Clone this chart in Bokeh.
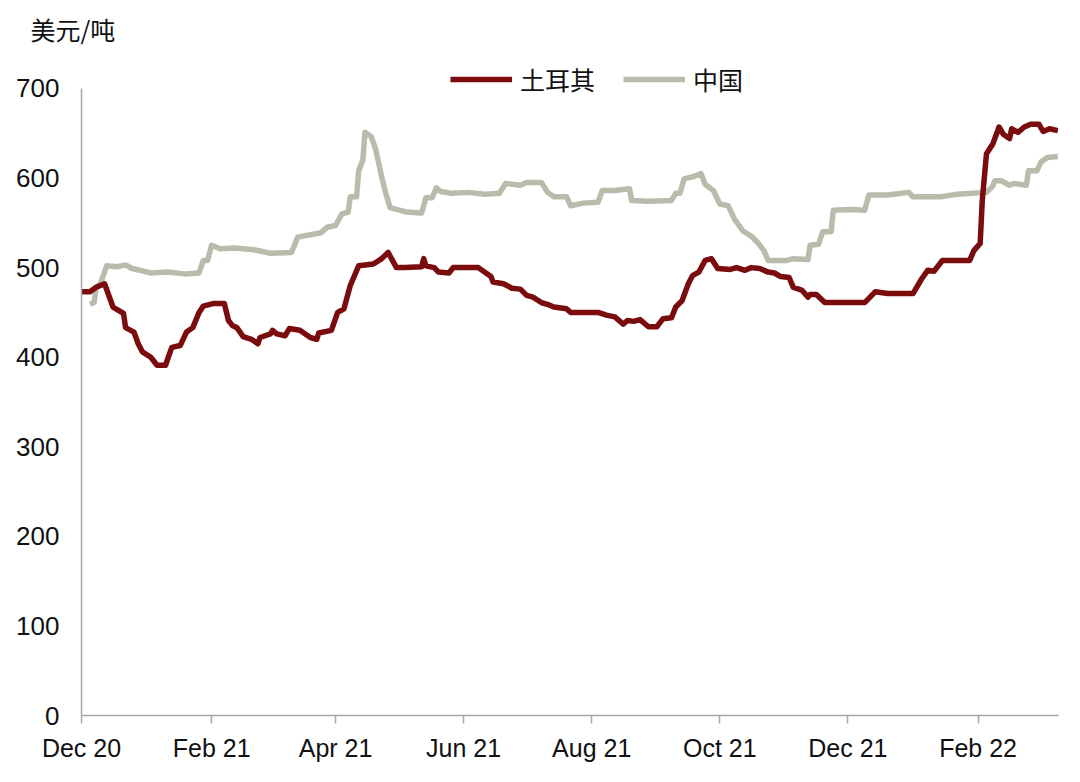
from datetime import datetime, timedelta
import pandas as pd
from bokeh.plotting import figure
from bokeh.models import (ColumnDataSource, FixedTicker, DatetimeTickFormatter,
                          Legend, LegendItem, Range1d)
from bokeh.embed import file_html
from bokeh.resources import INLINE

# ---------------- data ----------------
turkey_dates = [
    "2020-12-01", "2020-12-05", "2020-12-08", "2020-12-12", "2020-12-16", "2020-12-21",
    "2020-12-22", "2020-12-26", "2020-12-28", "2020-12-30", "2021-01-03", "2021-01-06",
    "2021-01-10", "2021-01-13", "2021-01-17", "2021-01-20", "2021-01-23", "2021-01-26",
    "2021-01-28", "2021-02-02", "2021-02-07", "2021-02-09", "2021-02-11", "2021-02-13",
    "2021-02-16", "2021-02-20", "2021-02-23", "2021-02-24", "2021-03-01", "2021-03-02",
    "2021-03-04", "2021-03-08", "2021-03-10", "2021-03-15", "2021-03-20", "2021-03-23",
    "2021-03-24", "2021-03-30", "2021-04-02", "2021-04-05", "2021-04-08", "2021-04-12",
    "2021-04-19", "2021-04-23", "2021-04-26", "2021-04-30", "2021-05-04", "2021-05-12",
    "2021-05-13", "2021-05-14", "2021-05-18", "2021-05-20", "2021-05-25", "2021-05-27",
    "2021-06-08", "2021-06-14", "2021-06-15", "2021-06-20", "2021-06-24", "2021-06-28",
    "2021-07-01", "2021-07-04", "2021-07-08", "2021-07-12", "2021-07-14", "2021-07-20",
    "2021-07-22", "2021-07-28", "2021-08-04", "2021-08-08", "2021-08-12", "2021-08-16",
    "2021-08-18", "2021-08-21", "2021-08-24", "2021-08-28", "2021-09-01", "2021-09-04",
    "2021-09-08", "2021-09-10", "2021-09-13", "2021-09-16", "2021-09-18", "2021-09-21",
    "2021-09-24", "2021-09-27", "2021-09-30", "2021-10-06", "2021-10-09", "2021-10-13",
    "2021-10-16", "2021-10-20", "2021-10-24", "2021-10-27", "2021-10-30", "2021-11-03",
    "2021-11-05", "2021-11-09", "2021-11-12", "2021-11-13", "2021-11-16", "2021-11-20",
    "2021-12-09", "2021-12-14", "2021-12-20", "2022-01-01", "2022-01-05", "2022-01-08",
    "2022-01-11", "2022-01-15", "2022-01-28", "2022-01-30", "2022-02-02", "2022-02-03",
    "2022-02-05", "2022-02-08", "2022-02-11", "2022-02-13", "2022-02-16", "2022-02-17",
    "2022-02-20", "2022-02-23", "2022-02-26", "2022-03-02", "2022-03-04", "2022-03-07",
    "2022-03-11",
]
turkey_values = [
    473, 473, 478, 482, 456, 449,
    433, 428, 415, 406, 400, 391,
    391, 411, 413, 428, 433, 450,
    457, 460, 460, 441, 435, 433,
    423, 420, 415, 422, 426, 430,
    426, 424, 432, 430, 422, 420,
    427, 430, 450, 454, 480, 502,
    504, 510, 517, 500, 500, 501,
    510, 502, 500, 495, 494, 500,
    500, 490, 484, 482, 477, 476,
    469, 467, 461, 458, 456, 454,
    450, 450, 450, 447, 445, 437,
    441, 440, 442, 434, 434, 443,
    444, 456, 463, 482, 491, 495,
    508, 510, 499, 498, 500, 497,
    500, 499, 495, 494, 490, 489,
    478, 475, 467, 470, 470, 461,
    461, 473, 471, 471, 487, 497,
    496, 508, 508, 519, 527, 575,
    627, 638, 657, 649, 644, 655,
    651, 657, 660, 660, 652, 655,
    653,
]

china_dates = [
    "2020-12-05", "2020-12-07", "2020-12-08", "2020-12-10", "2020-12-13", "2020-12-18",
    "2020-12-22", "2020-12-25", "2020-12-29", "2021-01-03", "2021-01-11", "2021-01-19",
    "2021-01-26", "2021-01-28", "2021-01-30", "2021-02-01", "2021-02-05", "2021-02-12",
    "2021-02-21", "2021-03-01", "2021-03-11", "2021-03-14", "2021-03-25", "2021-03-28",
    "2021-04-01", "2021-04-04", "2021-04-07", "2021-04-08", "2021-04-11", "2021-04-12",
    "2021-04-14", "2021-04-15", "2021-04-18", "2021-04-20", "2021-04-23", "2021-04-25",
    "2021-04-27", "2021-04-30", "2021-05-05", "2021-05-12", "2021-05-14", "2021-05-17",
    "2021-05-19", "2021-05-21", "2021-05-26", "2021-06-03", "2021-06-11", "2021-06-18",
    "2021-06-21", "2021-06-28", "2021-07-01", "2021-07-08", "2021-07-11", "2021-07-14",
    "2021-07-20", "2021-07-22", "2021-07-28", "2021-08-04", "2021-08-06", "2021-08-12",
    "2021-08-19", "2021-08-20", "2021-08-28", "2021-09-08", "2021-09-10", "2021-09-12",
    "2021-09-14", "2021-09-19", "2021-09-22", "2021-09-24", "2021-09-28", "2021-10-01",
    "2021-10-05", "2021-10-08", "2021-10-12", "2021-10-16", "2021-10-19", "2021-10-22",
    "2021-10-24", "2021-11-02", "2021-11-05", "2021-11-12", "2021-11-13", "2021-11-17",
    "2021-11-19", "2021-11-23", "2021-11-24", "2021-12-02", "2021-12-09", "2021-12-11",
    "2021-12-20", "2021-12-30", "2022-01-01", "2022-01-14", "2022-01-22", "2022-02-05",
    "2022-02-08", "2022-02-09", "2022-02-12", "2022-02-16", "2022-02-18", "2022-02-24",
    "2022-02-25", "2022-03-01", "2022-03-03", "2022-03-06", "2022-03-11",
]
china_values = [
    459, 461, 478, 482, 502, 501,
    503, 499, 497, 494, 495, 493,
    494, 508, 508, 525, 521, 522,
    520, 516, 517, 534, 539, 545,
    547, 560, 562, 579, 579, 608,
    620, 651, 646, 633, 601, 582,
    567, 565, 562, 561, 578, 578,
    589, 585, 583, 584, 582, 583,
    594, 592, 595, 595, 584, 579,
    579, 569, 572, 573, 586, 586,
    588, 575, 574, 575, 583, 583,
    599, 602, 605, 593, 586, 571,
    569, 554, 541, 535, 528, 519,
    508, 508, 510, 509, 525, 526,
    540, 540, 564, 565, 564, 581,
    581, 584, 579, 579, 582, 584,
    591, 597, 597, 592, 594, 592,
    608, 608, 618, 623, 624,
]

series_names = ["土耳其", "中国"]
y_ticks = [0, 100, 200, 300, 400, 500, 600, 700]
x_tick_dates = ["2020-12-01", "2021-02-01", "2021-04-01", "2021-06-01",
                "2021-08-01", "2021-10-01", "2021-12-01", "2022-02-01"]
unit_label = "美元/吨"

# ---------------- styling ----------------
RED = "#7b0c0e"
GREY = "#bbbbac"
AXIS = "#a6a6a6"
LATIN = "Liberation Sans"
CJK = "Noto Sans CJK SC"

src_t = ColumnDataSource(dict(x=pd.to_datetime(turkey_dates), y=turkey_values))
src_c = ColumnDataSource(dict(x=pd.to_datetime(china_dates), y=china_values))

x_start = datetime(2020, 12, 1)
x_end = x_start + timedelta(days=465.3)

# frame extends a little above 700 to leave room for the legend;
# the axis line itself is bounded to 0..700
y_top = 736.8

p = figure(width=1072, height=774, x_axis_type="datetime",
           x_range=Range1d(x_start, x_end), y_range=Range1d(0, y_top),
           output_backend="svg", toolbar_location=None,
           min_border_left=81, min_border_right=14,
           min_border_top=55, min_border_bottom=59,
           title=unit_label)
p.background_fill_color = "white"
p.border_fill_color = "white"
p.outline_line_color = None
p.xgrid.visible = False
p.ygrid.visible = False

p.title.text_font = CJK
p.title.text_font_size = "25px"
p.title.text_font_style = "normal"
p.title.text_color = "#111111"
p.title.align = "left"
p.title.offset = -51
p.title.standoff = 17

r_c = p.line("x", "y", source=src_c, line_color=GREY, line_width=5.5, line_join="round")
r_t = p.line("x", "y", source=src_t, line_color=RED, line_width=5.5, line_join="round")

# y axis
ya = p.yaxis[0]
ya.ticker = FixedTicker(ticks=y_ticks)
ya.bounds = (0, 700)
ya.axis_line_color = AXIS
ya.axis_line_width = 1.5
ya.major_tick_line_color = None
ya.minor_tick_line_color = None
ya.major_tick_out = 0
ya.major_tick_in = 0
ya.major_label_standoff = 22
ya.major_label_text_font = LATIN
ya.major_label_text_font_size = "26px"
ya.major_label_text_color = "#111111"

# x axis
xa = p.xaxis[0]
tick_ms = [pd.Timestamp(d).value // 10**6 for d in x_tick_dates]
xa.ticker = FixedTicker(ticks=tick_ms)
xa.formatter = DatetimeTickFormatter(days="%b %y", months="%b %y", years="%b %y")
xa.axis_line_color = AXIS
xa.axis_line_width = 1.5
xa.major_tick_line_color = AXIS
xa.major_tick_line_width = 1.5
xa.major_tick_out = 8
xa.major_tick_in = 0
xa.minor_tick_line_color = None
xa.major_label_standoff = 10
xa.major_label_text_font = LATIN
xa.major_label_text_font_size = "25px"
xa.major_label_text_color = "#111111"

legend = Legend(items=[LegendItem(label=series_names[0], renderers=[r_t]),
                       LegendItem(label=series_names[1], renderers=[r_c])],
                location=(369, 618), orientation="horizontal",
                glyph_width=62, glyph_height=26, label_standoff=8, spacing=28,
                padding=0, margin=0, border_line_color=None,
                background_fill_alpha=0,
                label_text_font=CJK, label_text_font_size="25px",
                label_text_color="#111111")
p.add_layout(legend, "center")

open("out.html", "w").write(file_html(p, INLINE))
